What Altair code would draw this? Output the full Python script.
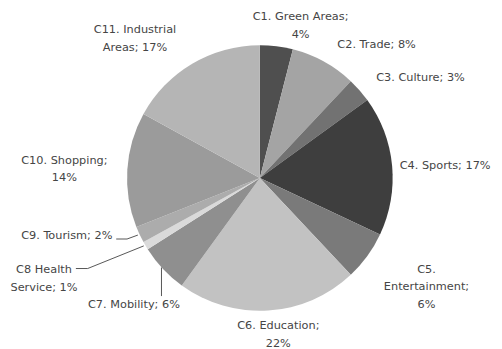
import altair as alt
import pandas as pd

# ---- data ----
categories = ["C1", "C2", "C3", "C4", "C5", "C6", "C7", "C8", "C9", "C10", "C11"]
labels = [
    "C1. Green Areas;\n4%",
    "C2. Trade; 8%",
    "C3. Culture; 3%",
    "C4. Sports; 17%",
    "C5.\nEntertainment;\n6%",
    "C6. Education;\n22%",
    "C7. Mobility; 6%",
    "C8 Health\nService; 1%",
    "C9. Tourism; 2%",
    "C10. Shopping;\n14%",
    "C11. Industrial\nAreas; 17%",
]
values = [4, 8, 3, 17, 6, 22, 6, 1, 2, 14, 17]

# ---- styles ----
colors = ["#4f4f4f", "#a4a4a4", "#727272", "#3e3e3e", "#7a7a7a", "#c2c2c2",
          "#8f8f8f", "#dadada", "#acacac", "#9b9b9b", "#b5b5b5"]
label_shift = {  # (dx, dy) nudges of each label block centre from its slice's mid-angle
    "C1": (22, -1), "C2": (44, 1), "C3": (47, 1), "C4": (34, 2),
    "C5": (44, 20), "C6": (9, 5), "C7": (-15, 23), "C8": (-86, 24),
    "C9": (-56, -7), "C10": (-44, 1), "C11": (-48, -8),
}
CX, CY, R, LABEL_R = 256, 170, 135, 155
FONT = "DejaVu Sans"
FONT_SIZE = 11.5
LINE_H = 18
TEXT_COLOR = "#454545"

df = pd.DataFrame({"cat": categories, "label": labels, "value": values,
                   "order": list(range(len(categories)))})

theta_scale = alt.Scale(domain=[0, 100])
base = alt.Chart(df)

pie = base.mark_arc(outerRadius=R).encode(
    theta=alt.Theta("value:Q", stack=True, scale=theta_scale),
    color=alt.Color("cat:N", scale=alt.Scale(domain=categories, range=colors), legend=None),
    order=alt.Order("order:Q"),
    x=alt.value(CX), y=alt.value(CY),
)

lab_base = base.transform_window(
    cum="sum(value)", sort=[alt.SortField("order")], frame=[None, 0]
).transform_calculate(mid="datum.cum - datum.value / 2")

layers = [pie]
for c, lab in zip(categories, labels):
    dx, dy = label_shift[c]
    dy -= lab.count("\n") * LINE_H / 2  # first line sits at the anchor
    layers.append(
        lab_base.transform_filter(alt.datum.cat == c).mark_text(
            font=FONT, fontSize=FONT_SIZE, color=TEXT_COLOR, lineBreak="\n",
            lineHeight=LINE_H, align="center", baseline="middle", dx=dx, dy=dy,
        ).encode(
            theta=alt.Theta("mid:Q", scale=theta_scale, stack=None),
            radius=alt.value(LABEL_R),
            text="label:N",
            x=alt.value(CX), y=alt.value(CY),
        )
    )

# leader lines for the small slices (C7, C8, C9)
leader_segments = [
    (156, 261, 156, 290),
    (138, 239, 81, 262), (81, 262, 69, 262),
    (132, 228, 121, 232), (121, 232, 110, 232),
]
for x1, y1, x2, y2 in leader_segments:
    layers.append(
        base.transform_filter(alt.datum.order == 0).mark_rule(
            color="#555555", strokeWidth=1
        ).encode(x=alt.value(x1), y=alt.value(y1), x2=alt.value(x2), y2=alt.value(y2))
    )

chart = alt.layer(*layers).properties(
    width=494, height=341, padding=0, autosize=alt.AutoSizeParams(type="none")
).configure_view(stroke=None)

chart.save("out.html", embed_options={"renderer": "svg", "actions": False})
